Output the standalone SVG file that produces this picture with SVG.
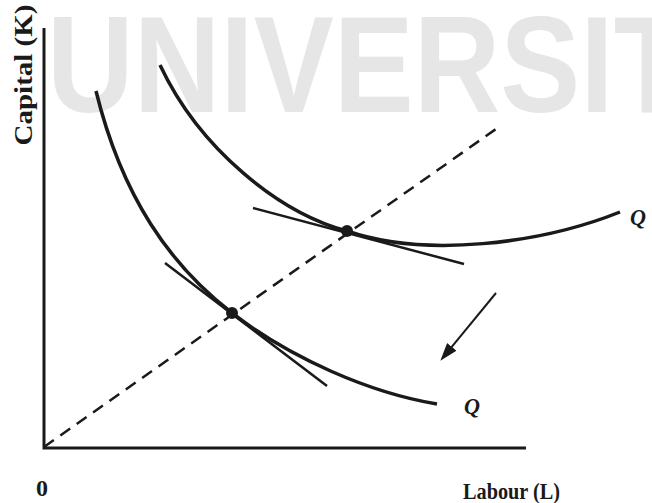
<svg xmlns="http://www.w3.org/2000/svg" width="652" height="503" viewBox="0 0 652 503">
<style>
.wm{font-family:"Liberation Sans",Arial,sans-serif;font-weight:bold;font-size:138px;fill:#e6e6e6}
.lbl{font-family:"Liberation Serif","Times New Roman",serif;font-weight:bold;font-size:24px;fill:#1a1a1a}
.ylbl{font-size:29px}
.q{font-family:"Liberation Serif","Times New Roman",serif;font-weight:bold;font-style:italic;font-size:24px;fill:#1a1a1a}
.axis{stroke:#1a1a1a;stroke-width:3;fill:none}
.iso{stroke:#1a1a1a;stroke-width:3.5;fill:none;stroke-linecap:butt}
.tan{stroke:#1a1a1a;stroke-width:2.5;fill:none}
.ray{stroke:#1a1a1a;stroke-width:2.5;fill:none;stroke-dasharray:12 8}
.dot{fill:#1a1a1a}
</style>
<defs>
<marker id="head" viewBox="0 0 18 12" refX="2" refY="6" markerWidth="18" markerHeight="12" markerUnits="userSpaceOnUse" orient="auto">
<path d="M0,0 L18,6 L0,12 z" fill="#1a1a1a"/>
</marker>
</defs>
<rect width="652" height="503" fill="#ffffff"/>
<g id="watermark">
<text class="wm" x="47" y="112" textLength="640" lengthAdjust="spacingAndGlyphs">UNIVERSIT</text>
</g>
<g id="axes">
<path class="axis" d="M44,28 L44,448 L526,448"/>
</g>
<g id="connectors">
<path class="ray" d="M44,447 L496,129"/>
<path class="tan" d="M165,263 L327,386"/>
<path class="tan" d="M253,208 L464,264"/>
<path d="M496,293 L450.5,348.4" stroke="#1a1a1a" stroke-width="2" fill="none" marker-end="url(#head)"/>
</g>
<g id="isoquant-lower">
<path class="iso" d="M96,91 C122,197 170,265 232,313 C290,358 370,393 437,404"/>
<circle class="dot" cx="232" cy="313" r="6"/>
</g>
<g id="isoquant-upper">
<path class="iso" d="M160,65 C200,150 280,213 347,231 C425,258 540,244 620,212"/>
<circle class="dot" cx="347" cy="231" r="6"/>
</g>
<g id="labels">
<text class="q" x="630" y="225" textLength="16" lengthAdjust="spacingAndGlyphs">Q</text>
<text class="q" x="464" y="414" textLength="16" lengthAdjust="spacingAndGlyphs">Q</text>
<text class="lbl" x="36" y="496" textLength="12" lengthAdjust="spacingAndGlyphs">0</text>
<text class="lbl" x="463" y="499" textLength="97" lengthAdjust="spacingAndGlyphs">Labour (L)</text>
<text class="lbl ylbl" transform="translate(32,75) rotate(-90) scale(1,0.9)" x="0" y="0" text-anchor="middle">Capital (K)</text>
</g>
</svg>
